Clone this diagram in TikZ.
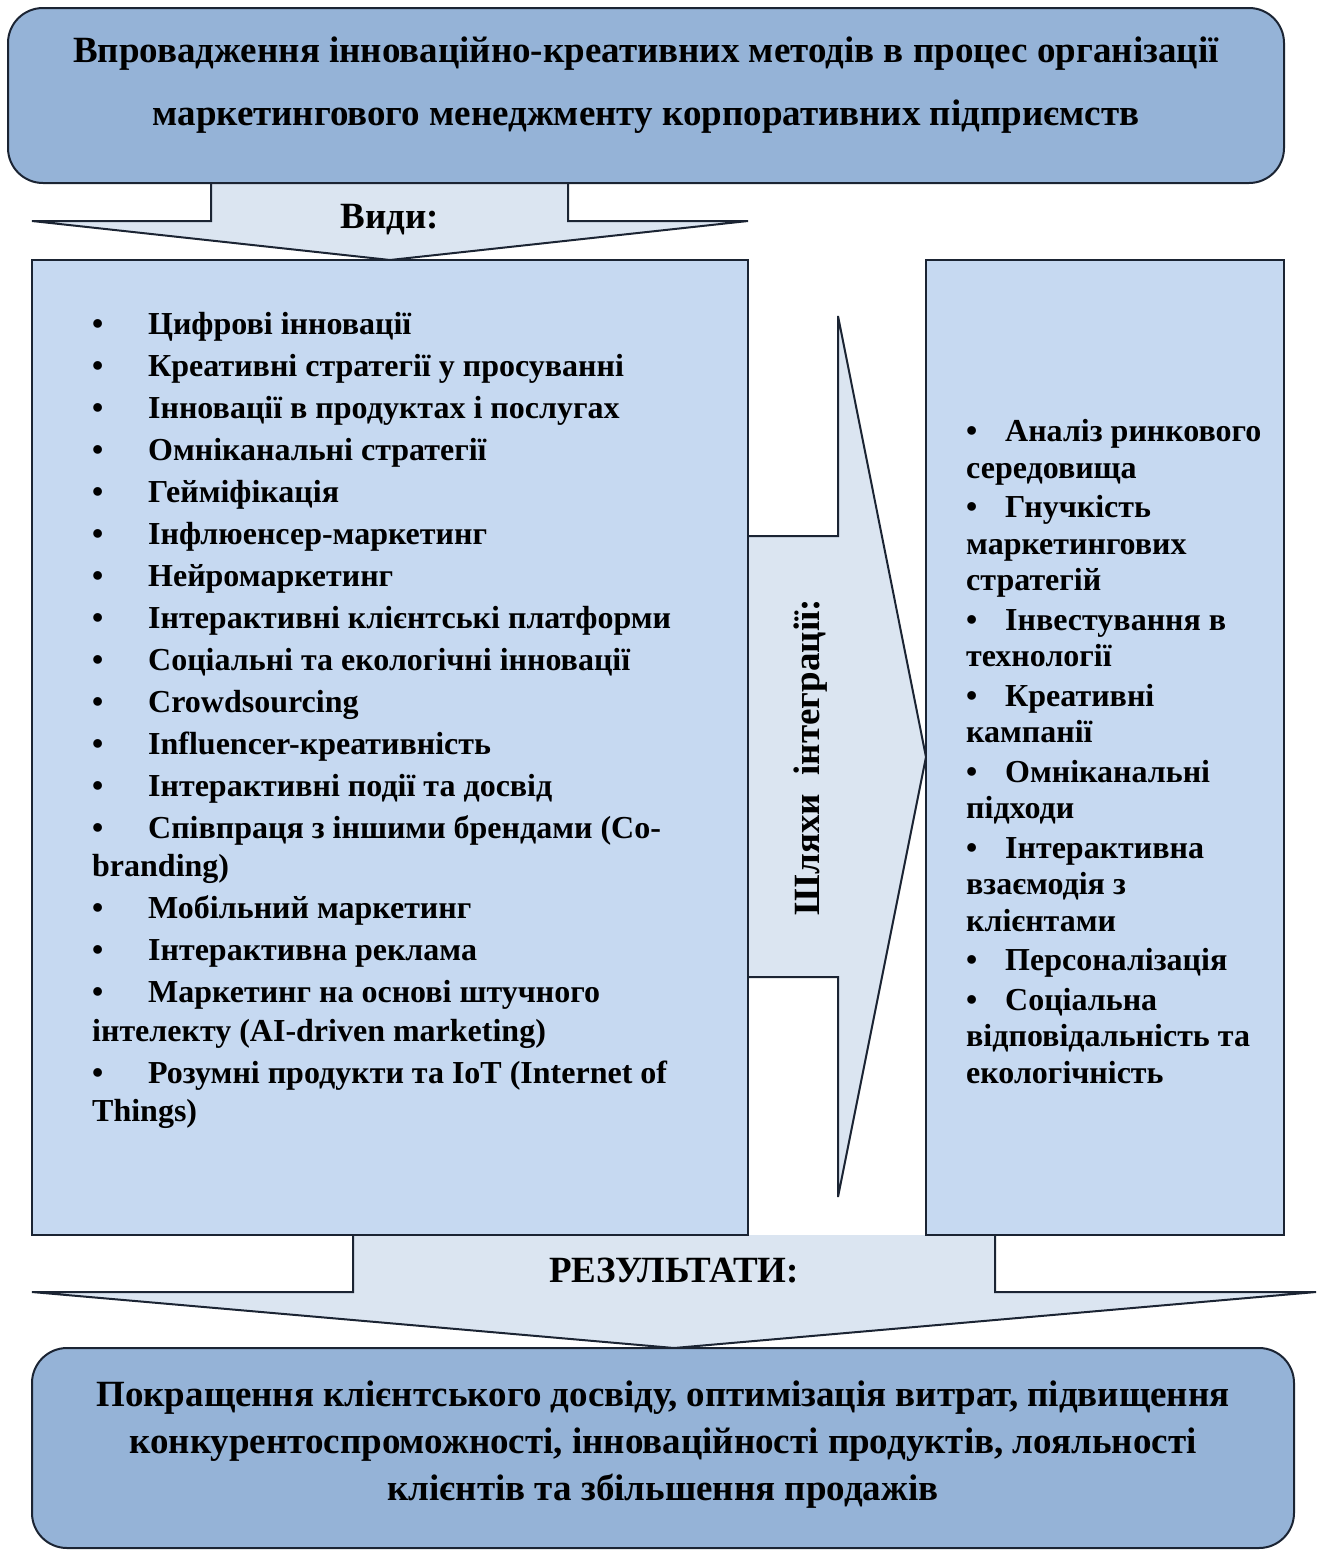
\documentclass[tikz,border=0pt]{standalone}
\usepackage{fontspec}
\setmainfont{Liberation Serif}
\usetikzlibrary{positioning}
\definecolor{topblue}{HTML}{95B3D7}
\definecolor{boxblue}{HTML}{C6D9F1}
\definecolor{arrowblue}{HTML}{DBE5F1}
\definecolor{edgeline}{HTML}{1B2433}
\newcommand{\bul}[1][56pt]{\makebox[#1][l]{\textbullet}}

\tikzset{
  rbox/.style={draw=edgeline,line width=2pt,fill=topblue,rounded corners=35pt},
  listbox/.style={draw=edgeline,line width=2pt,fill=boxblue},
  blockarrow/.style={draw=edgeline,line width=2pt,fill=arrowblue,line join=miter},
  txt/.style={font=\fontsize{37}{38.5}\selectfont\bfseries,inner sep=0pt},
  listtxt/.style={font=\fontsize{32}{38.5}\selectfont\bfseries,inner sep=0pt,align=left,anchor=north west},
}

\begin{document}
\begin{tikzpicture}[x=1pt,y=-1pt]
\useasboundingbox (0,0) rectangle (1321,1550);
\clip (0,0) rectangle (1321,1550);

% block arrows
\draw[blockarrow] (211,183) -- (211,221) -- (32,221) -- (390,260) -- (748,221) -- (568,221) -- (568,183);
\draw[blockarrow] (748,536) -- (838,536) -- (838,316) -- (926,757) -- (838,1197) -- (838,977) -- (748,977);
\draw[blockarrow] (353,1235) -- (353,1292) -- (32,1292) -- (674,1348) -- (1316,1292) -- (995,1292) -- (995,1235);

% boxes
\draw[rbox] (8,8) rectangle (1284,183);
\draw[listbox] (32,260) rectangle (748,1235);
\draw[listbox] (926,260) rectangle (1284,1235);
\draw[rbox] (32,1348) rectangle (1294,1548);

% texts
\node[txt,align=center] (title) at (646,85)
  {Впровадження інноваційно-креативних методів в процес організації\\[25pt]
   маркетингового менеджменту корпоративних підприємств};
\node[txt] (kinds) at (390,220) {Види:};
\node[txt,rotate=90] (ways) at (811,757) {Шляхи\ \ інтеграції:};
\node[txt] (results) at (674,1270) {РЕЗУЛЬТАТИ:};

\node[listtxt] (kindlist) at (92,312)
  {\bul Цифрові інновації\\[3.5pt]
   \bul Креативні стратегії у просуванні\\[3.5pt]
   \bul Інновації в продуктах і послугах\\[3.5pt]
   \bul Омніканальні стратегії\\[3.5pt]
   \bul Гейміфікація\\[3.5pt]
   \bul Інфлюенсер-маркетинг\\[3.5pt]
   \bul Нейромаркетинг\\[3.5pt]
   \bul Інтерактивні клієнтські платформи\\[3.5pt]
   \bul Соціальні та екологічні інновації\\[3.5pt]
   \bul Crowdsourcing\\[3.5pt]
   \bul Influencer-креативність\\[3.5pt]
   \bul Інтерактивні події та досвід\\[3.5pt]
   \bul Співпраця з іншими брендами (Co-\\
   branding)\\[3.5pt]
   \bul Мобільний маркетинг\\[3.5pt]
   \bul Інтерактивна реклама\\[3.5pt]
   \bul Маркетинг на основі штучного\\
   інтелекту (AI-driven marketing)\\[3.5pt]
   \bul Розумні продукти та IoT (Internet of\\
   Things)};

\node[listtxt,font=\fontsize{32}{36.75}\selectfont\bfseries] (waylist) at (966,419)
  {\bul[39pt]Аналіз ринкового\\
   середовища\\[2.5pt]
   \bul[39pt]Гнучкість\\
   маркетингових\\
   стратегій\\[2.5pt]
   \bul[39pt]Інвестування в\\
   технології\\[2.5pt]
   \bul[39pt]Креативні\\
   кампанії\\[2.5pt]
   \bul[39pt]Омніканальні\\
   підходи\\[2.5pt]
   \bul[39pt]Інтерактивна\\
   взаємодія з\\
   клієнтами\\[2.5pt]
   \bul[39pt]Персоналізація\\[2.5pt]
   \bul[39pt]Соціальна\\
   відповідальність та\\
   екологічність};

\node[txt,align=center] (outcome) at (663,1445)
  {Покращення клієнтського досвіду, оптимізація витрат, підвищення\\[8.5pt]
   конкурентоспроможності, інноваційності продуктів, лояльності\\[8.5pt]
   клієнтів та збільшення продажів};
\end{tikzpicture}
\end{document}
